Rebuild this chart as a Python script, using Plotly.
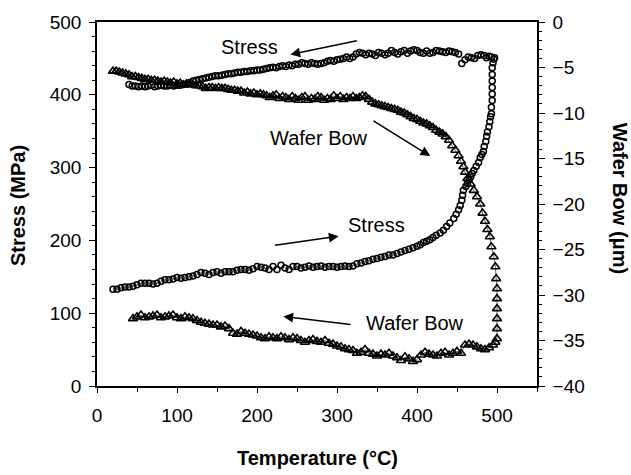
import plotly.graph_objects as go

# ---------------- data ----------------
stress_heat_T = [20, 25, 30, 35, 40, 45, 50, 55, 60, 65, 70, 75, 80, 85, 90, 95, 100, 105, 110, 115,
                 120, 125, 130, 135, 140, 145, 150, 155, 160, 165, 170, 175, 180, 185, 190, 195, 200,
                 205, 210, 215, 220, 225, 230, 235, 240, 245, 250, 255, 260, 265, 270, 275, 280, 285,
                 290, 295, 300, 305, 310, 315, 320, 325, 330, 335, 340, 345, 350, 355, 360, 365, 370,
                 375, 380, 385, 390, 395, 400, 404, 408, 412, 416, 420, 424, 429, 433, 437, 441, 446,
                 449, 452, 454, 456, 457, 458, 461, 463, 465, 467, 469, 471, 474, 477, 479, 481, 483,
                 484, 486, 487, 488, 490, 491, 492, 493, 493, 494, 494, 494, 494, 494, 494, 495, 496]
stress_heat_MPa = [133, 133, 135, 136, 136, 137, 139, 141, 141, 141, 140, 141, 144, 146, 146, 147, 149,
                   148, 149, 150, 151, 153, 156, 155, 153, 156, 157, 155, 157, 157, 157, 159, 160, 160,
                   159, 161, 164, 163, 162, 160, 164, 160, 166, 162, 160, 164, 164, 162, 163, 165, 163,
                   164, 165, 163, 164, 164, 163, 164, 165, 164, 165, 168, 169, 171, 172, 174, 175, 177,
                   178, 180, 180, 182, 184, 186, 188, 190, 192, 194, 197, 199, 201, 204, 207, 210, 214,
                   219, 224, 230, 236, 242, 248, 255, 262, 269, 274, 278, 283, 287, 292, 296, 302, 307,
                   314, 318, 322, 329, 336, 343, 349, 356, 363, 370, 374, 383, 392, 401, 410, 419, 428,
                   437, 444, 449]

stress_cool_T = [497, 493, 490, 487, 484, 480, 476, 472, 468, 464, 460, 456, 452, 448, 444, 440, 436,
                 432, 428, 424, 420, 416, 412, 408, 404, 400, 396, 392, 388, 384, 380, 376, 372, 368,
                 364, 360, 356, 352, 348, 344, 340, 336, 332, 328, 324, 320, 316, 312, 308, 304, 300,
                 296, 292, 288, 284, 280, 276, 272, 268, 264, 260, 256, 252, 248, 244, 240, 236, 232,
                 228, 224, 220, 216, 212, 208, 204, 200, 196, 192, 188, 184, 180, 176, 172, 168, 164,
                 160, 156, 152, 148, 144, 140, 136, 132, 128, 124, 120, 116, 112, 108, 104, 100, 96,
                 92, 88, 84, 80, 76, 72, 68, 64, 60, 56, 52, 48, 44, 40]
stress_cool_MPa = [451, 452, 453, 451, 454, 455, 454, 450, 451, 452, 448, 443, 456, 458, 459, 460, 458,
                   459, 460, 461, 458, 457, 460, 457, 458, 461, 462, 460, 457, 461, 459, 456, 458, 461,
                   457, 455, 457, 458, 454, 456, 457, 455, 457, 458, 456, 452, 450, 452, 450, 449, 448,
                   446, 447, 446, 444, 443, 442, 443, 444, 442, 443, 444, 442, 442, 440, 441, 439, 440,
                   439, 437, 438, 437, 436, 435, 434, 434, 433, 433, 432, 432, 431, 431, 430, 429, 429,
                   428, 427, 426, 426, 425, 424, 423, 422, 421, 420, 419, 417, 415, 414, 413, 413, 412,
                   413, 412, 412, 413, 412, 411, 413, 412, 411, 412, 411, 412, 412, 414]

bow_heat_T = [45, 50, 55, 60, 65, 70, 75, 80, 85, 90, 95, 100, 105, 110, 115, 120, 125, 130, 135, 140,
              145, 150, 155, 160, 165, 170, 175, 180, 185, 190, 195, 200, 205, 210, 215, 220, 225, 230,
              235, 240, 245, 250, 255, 260, 265, 270, 275, 280, 285, 290, 295, 300, 305, 310, 315, 320,
              325, 330, 335, 340, 345, 350, 355, 360, 365, 370, 375, 380, 385, 390, 395, 400, 405, 410,
              415, 420, 425, 430, 435, 440, 445, 450, 455, 460, 465, 470, 475, 480, 485, 490, 495, 498,
              500]
bow_heat_um = [-32.6, -32.4, -32.2, -32.5, -32.4, -32.3, -32.2, -32.5, -32.4, -32.3, -32.2, -32.5,
               -32.6, -32.4, -32.5, -32.6, -32.8, -33.0, -33.1, -33.2, -33.3, -33.3, -33.5, -33.4,
               -33.7, -34.2, -34.3, -34.0, -34.2, -34.3, -34.4, -34.5, -34.7, -34.8, -34.6, -34.7,
               -34.8, -34.6, -34.7, -34.9, -34.7, -34.8, -35.0, -35.2, -35.0, -34.9, -35.1, -35.2,
               -35.0, -35.3, -35.4, -35.6, -35.7, -35.9, -36.0, -36.1, -36.4, -36.3, -36.0, -36.4,
               -36.5, -36.7, -36.5, -36.6, -36.4, -36.7, -36.9, -37.2, -36.8, -37.0, -37.3, -37.1,
               -36.6, -36.3, -36.5, -36.6, -36.7, -36.4, -36.3, -36.6, -36.4, -36.2, -36.4, -35.5,
               -35.4, -35.5, -35.7, -35.9, -36.0, -35.8, -35.5, -35.2, -34.8]

bow_cool_T = [500, 500, 500, 500, 500, 499, 498, 496, 493, 491, 488, 485, 482, 479, 475, 471, 467, 463,
              460, 458, 455, 452, 448, 444, 440, 436, 432, 428, 424, 420, 416, 412, 408, 404, 400, 396,
              392, 388, 384, 380, 376, 372, 368, 364, 360, 356, 352, 348, 344, 340, 336, 332, 328, 324,
              320, 316, 312, 308, 304, 300, 296, 292, 288, 284, 280, 276, 272, 268, 264, 260, 256, 252,
              248, 244, 240, 236, 232, 228, 224, 220, 216, 212, 208, 204, 200, 196, 192, 188, 184, 180,
              176, 172, 168, 164, 160, 156, 152, 148, 144, 140, 136, 132, 128, 124, 120, 116, 112, 108,
              104, 100, 96, 92, 88, 84, 80, 76, 72, 68, 64, 60, 56, 52, 48, 44, 40, 36, 32, 28, 24, 20]
bow_cool_um = [-33.7, -32.6, -31.5, -30.4, -29.3, -28.2, -26.9, -25.8, -24.7, -23.6, -22.8, -21.9,
               -21.0, -20.0, -19.2, -18.5, -17.8, -17.2, -16.5, -15.9, -15.3, -14.7, -14.1, -13.6,
               -13.0, -12.6, -12.3, -12.1, -11.9, -11.6, -11.4, -11.2, -11.1, -10.9, -10.7, -10.6,
               -10.4, -10.2, -10.0, -9.9, -9.7, -9.6, -9.5, -9.4, -9.3, -9.2, -9.1, -9.0, -8.8, -8.5,
               -8.2, -8.1, -8.3, -8.4, -8.2, -8.4, -8.3, -8.5, -8.2, -8.4, -8.1, -8.5, -8.4, -8.6,
               -8.3, -8.2, -8.5, -8.4, -8.6, -8.2, -8.3, -8.6, -8.4, -8.2, -8.5, -8.3, -8.2, -8.4,
               -8.0, -8.1, -8.3, -8.1, -8.0, -7.9, -8.0, -7.8, -7.9, -7.7, -7.8, -7.6, -7.6, -7.5,
               -7.5, -7.4, -7.3, -7.3, -7.2, -7.3, -7.2, -7.2, -7.3, -7.1, -7.0, -7.0, -6.9, -6.9,
               -6.8, -6.9, -6.7, -6.8, -6.6, -6.7, -6.6, -6.5, -6.6, -6.5, -6.4, -6.4, -6.3, -6.3,
               -6.2, -6.1, -6.0, -6.0, -5.8, -5.7, -5.6, -5.5, -5.4, -5.4]

x_ticks = [0, 100, 200, 300, 400, 500]
stress_ticks = [0, 100, 200, 300, 400, 500]
bow_ticks = [0, -5, -10, -15, -20, -25, -30, -35, -40]

FONT = "Liberation Sans, Arial, Helvetica, sans-serif"

fig = go.Figure()
circle = dict(symbol="circle-open", size=6, color="black", line=dict(width=1.5, color="black"))
fig.add_trace(go.Scatter(x=stress_heat_T, y=stress_heat_MPa, mode="markers", marker=circle,
                         showlegend=False, yaxis="y"))
fig.add_trace(go.Scatter(x=stress_cool_T, y=stress_cool_MPa, mode="markers", marker=circle,
                         showlegend=False, yaxis="y"))
fig.add_trace(go.Scatter(x=bow_heat_T + bow_cool_T, y=bow_heat_um + bow_cool_um,
                         mode="lines+markers", line=dict(color="black", width=0.6),
                         marker=dict(symbol="triangle-up-open", size=8, color="black",
                                     line=dict(width=1.6, color="black")),
                         showlegend=False, yaxis="y2"))

axis_common = dict(showgrid=False, zeroline=False, showline=True, linecolor="black", linewidth=1.5,
                   ticks="outside", tickcolor="black", tickwidth=1.3,
                   tickfont=dict(family=FONT, size=19, color="black"))

fig.update_layout(
    width=631, height=475,
    margin=dict(l=97, r=94, t=15, b=89),
    paper_bgcolor="white", plot_bgcolor="white",
    xaxis=dict(range=[0, 550], tickvals=x_ticks, ticklen=5, mirror=True,
               minor=dict(dtick=50, tick0=0, ticks="outside", ticklen=4, tickcolor="black"),
               ticklabelstandoff=6, **axis_common),
    yaxis=dict(range=[0, 500], tickvals=stress_ticks, ticklen=6,
               minor=dict(dtick=20, tick0=0, ticks="outside", ticklen=3, tickcolor="black"),
               ticklabelstandoff=4, **axis_common),
    yaxis2=dict(range=[-40, 0], tickvals=bow_ticks, ticklen=6, overlaying="y", side="right",
                minor=dict(dtick=1, tick0=0, ticks="outside", ticklen=3, tickcolor="black"),
                ticklabelstandoff=4, **axis_common),
)

# axis titles
title_font = dict(family=FONT, size=20, color="black")
fig.add_annotation(text="<b>Temperature (°C)</b>", xref="paper", yref="paper", x=0.5, y=-0.198,
                   showarrow=False, font=title_font, xanchor="center", yanchor="middle")
fig.add_annotation(text="<b>Stress (MPa)</b>", xref="paper", yref="paper", x=-0.179, y=0.495,
                   showarrow=False, font=title_font, textangle=-90, xanchor="center", yanchor="middle")
fig.add_annotation(text="<b>Wafer Bow (μm)</b>", xref="paper", yref="paper", x=1.189, y=0.514,
                   showarrow=False, font=title_font, textangle=90, xanchor="center", yanchor="middle")

# labels
lab_font = dict(family=FONT, size=20, color="black")
labels = [("Stress", 190, 465), ("Wafer Bow", 277, 341), ("Stress", 349, 221), ("Wafer Bow", 398, 87)]
for t, lx, ly in labels:
    fig.add_annotation(text=t, x=lx, y=ly, xref="x", yref="y", showarrow=False, font=lab_font)

# arrows (head, tail)
arrows = [((241.7, 455.3), (326.6, 474.6)), ((416.6, 315.8), (343.7, 365.3)),
          ((302, 205.7), (220.8, 193)), ((233, 95.4), (318.7, 84.2))]
for (hx, hy), (tx, ty) in arrows:
    fig.add_annotation(x=hx, y=hy, ax=tx, ay=ty, xref="x", yref="y", axref="x", ayref="y",
                       text="", showarrow=True, arrowhead=2, arrowsize=1.3, arrowwidth=1.5,
                       arrowcolor="black", standoff=0)

fig.write_html("out.html")
